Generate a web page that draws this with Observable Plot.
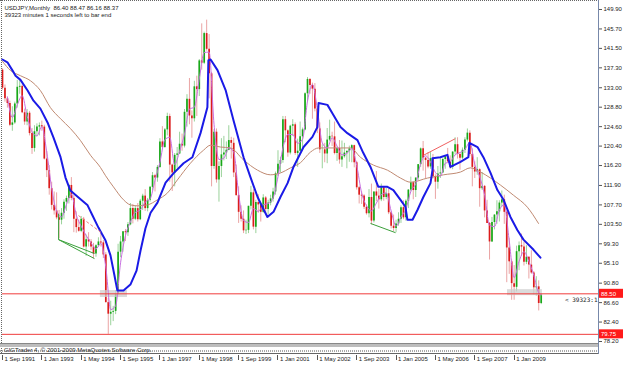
<!DOCTYPE html>
<html><head><meta charset="utf-8">
<script src="https://cdn.jsdelivr.net/npm/d3@7"></script>
<script src="https://cdn.jsdelivr.net/npm/@observablehq/plot@0.6"></script>
<style>
html,body{margin:0;padding:0;background:#fff;}
#chart svg{display:block;white-space:pre;}
</style></head><body><div id="chart"></div>
<script>
// Monthly USDJPY bars, index 0 = Sep 1991 ... 219 = Dec 2009
const opens = [136.8,132.9,130.6,129.6,
124.9,125.4,129.5,133.1,133.3,127.6,125.6,127.5,123.1,119.9,123.5,124.5,
124.8,124.5,117.6,115.1,111.2,107.6,106.4,104.9,104.4,105.9,108.3,109.1,
111.9,109.1,104.6,102.8,102.0,104.6,98.6,100.2,99.7,98.6,97.1,98.9,
99.7,99.5,96.9,86.6,84.1,84.5,84.7,88.4,97.5,99.7,101.9,101.7,
103.4,106.9,104.6,106.9,104.5,108.5,109.6,106.9,108.7,111.5,114.0,113.5,
115.8,121.3,120.1,123.9,126.8,116.3,114.6,118.4,118.7,120.8,120.4,127.7,
130.5,126.9,126.3,133.2,132.6,138.8,138.3,144.7,141.3,136.0,116.0,123.4,
113.1,116.0,118.5,118.9,119.5,121.6,121.0,114.6,109.7,106.1,104.6,102.1,
102.2,107.4,110.3,102.9,108.2,107.7,106.1,109.2,106.7,108.1,109.0,110.5,
114.4,116.5,117.3,126.1,123.7,118.9,124.7,125.0,118.8,119.3,122.4,123.9,
131.7,134.8,133.5,132.7,128.4,124.1,119.6,119.6,118.7,121.7,122.5,122.4,
118.8,119.9,117.4,118.1,118.9,119.3,119.8,120.5,116.8,111.4,109.8,109.6,
107.2,105.8,109.3,104.2,110.5,109.6,108.8,111.4,109.3,110.1,106.0,103.1,
102.6,103.6,104.6,107.1,104.9,108.5,110.9,112.5,110.8,113.5,116.4,119.8,
117.8,117.3,115.9,117.7,113.8,112.6,114.4,114.6,117.5,118.1,117.0,115.8,
119.1,120.7,118.6,117.8,119.5,121.7,123.2,118.6,115.8,114.8,115.3,111.2,
111.7,106.4,103.7,99.7,103.9,105.5,106.2,108.1,108.8,106.1,98.4,95.4,
90.7,89.9,97.6,98.9,98.6,95.3,96.4,94.7,93.0,89.8,90.0,86.4];
const highs = [137.1,133.6,131.0,130.1,
128.9,129.9,134.6,134.6,133.6,128.4,128.3,127.9,124.2,124.8,125.2,125.4,
125.8,124.9,119.2,116.2,112.6,110.5,110.3,106.5,106.9,108.8,109.6,112.1,
113.6,109.7,106.2,104.4,105.2,105.0,101.2,101.7,100.2,99.4,99.1,100.6,
101.5,100.0,97.4,87.5,86.9,85.8,89.2,99.2,100.9,101.9,102.4,103.9,
108.0,107.8,107.4,108.0,108.9,110.0,111.0,109.1,111.7,114.7,114.3,116.2,
122.0,124.6,124.2,127.5,127.3,116.5,118.8,120.1,123.4,123.0,128.3,131.5,
135.0,128.0,134.4,135.5,139.1,146.8,145.0,147.6,144.5,136.3,124.0,124.1,
117.0,122.0,122.5,121.3,124.8,122.3,122.1,116.3,111.6,107.5,106.4,104.4,
107.4,111.7,111.0,108.7,109.9,108.0,109.9,109.5,108.7,109.8,111.3,114.8,
119.4,118.0,126.8,126.8,123.9,124.9,126.1,125.4,121.9,125.6,124.3,131.9,
135.2,135.0,134.0,133.9,129.0,125.4,120.7,121.0,124.2,126.0,123.4,125.6,
120.2,121.6,121.5,121.0,119.3,120.4,120.7,120.6,117.1,111.7,110.5,109.9,
107.7,111.0,112.2,110.5,114.9,111.1,112.2,111.5,111.3,111.1,106.3,105.5,
104.4,106.0,107.5,108.6,108.8,111.0,113.7,112.7,113.5,116.4,120.0,121.4,
117.9,119.0,119.0,118.6,114.2,116.0,117.8,117.7,118.3,119.9,118.3,119.2,
122.2,122.2,119.0,120.0,122.2,124.1,123.7,119.8,117.0,117.9,115.5,114.7,
111.9,108.7,103.9,105.0,105.6,108.6,108.6,110.7,109.8,106.4,100.5,95.8,
94.6,98.8,99.7,101.4,99.7,98.9,96.5,97.8,93.3,92.2,91.3,88.47];
const lows = [132.5,129.9,128.6,124.6,
123.6,125.1,128.6,131.6,127.4,124.9,124.8,122.6,118.6,119.1,122.4,122.6,
123.6,117.4,113.6,109.8,106.6,105.5,104.5,100.4,103.4,104.6,106.3,107.9,
108.6,101.7,101.6,101.8,101.7,98.4,96.6,98.6,97.9,96.1,96.4,98.6,
98.6,96.1,86.5,79.75,81.6,82.5,84.0,88.2,96.3,97.5,99.8,100.9,
103.2,103.6,104.3,104.0,104.3,106.5,106.3,106.2,108.3,110.8,110.5,112.6,
115.6,119.9,119.9,122.6,112.6,110.6,111.6,115.6,118.6,119.3,120.0,124.5,
125.0,122.1,125.6,126.8,131.1,136.8,138.0,140.9,130.6,111.6,115.4,112.4,
108.3,113.6,117.2,117.5,119.4,117.6,113.6,109.6,103.7,104.0,101.5,101.3,
101.5,106.6,102.3,101.5,105.9,104.0,105.9,105.8,105.5,107.5,108.3,109.8,
113.8,114.6,116.7,121.1,118.0,118.5,122.5,118.4,115.8,119.1,119.6,123.7,
129.9,131.6,126.2,127.8,123.1,118.8,115.5,116.8,116.6,121.4,120.3,118.5,
117.1,116.5,115.8,117.8,115.5,116.9,116.8,115.7,110.9,107.9,107.8,106.7,
105.5,104.9,103.4,103.8,108.4,106.8,108.4,108.5,108.8,105.6,102.5,101.9,
101.7,103.1,103.7,104.5,104.2,106.9,110.5,108.8,109.3,113.0,115.8,115.0,
113.4,115.5,115.4,113.3,108.9,111.1,113.4,114.5,115.4,116.8,115.4,115.3,
118.5,117.6,115.2,117.5,118.8,121.3,118.2,111.6,113.4,114.1,107.2,110.8,
104.9,103.7,95.8,99.6,102.3,103.5,104.0,107.3,103.5,90.9,92.7,87.1,
87.1,88.9,93.5,96.6,94.5,94.8,91.7,92.7,88.2,88.0,84.8,86.16];
const closes = [132.9,130.6,129.6,124.9,
125.4,129.5,133.1,133.3,127.6,125.6,127.5,123.1,119.9,123.5,124.5,124.8,
124.5,117.6,115.1,111.2,107.6,106.4,104.9,104.4,105.9,108.3,109.1,111.9,
109.1,104.6,102.8,102.0,104.6,98.6,100.2,99.7,98.6,97.1,98.9,99.7,
99.5,96.9,86.6,84.1,84.5,84.7,88.4,97.5,99.7,101.9,101.7,103.4,
106.9,104.6,106.9,104.5,108.5,109.6,106.9,108.7,111.5,114.0,113.5,115.8,
121.3,120.1,123.9,126.8,116.3,114.6,118.4,118.7,120.8,120.4,127.7,130.5,
126.9,126.3,133.2,132.6,138.8,138.3,144.7,141.3,136.0,116.0,123.4,113.1,
116.0,118.5,118.9,119.5,121.6,121.0,114.6,109.7,106.1,104.6,102.1,102.2,
107.4,110.3,102.9,108.2,107.7,106.1,109.2,106.7,108.1,109.0,110.5,114.4,
116.5,117.3,126.1,123.7,118.9,124.7,125.0,118.8,119.3,122.4,123.9,131.7,
134.8,133.5,132.7,128.4,124.1,119.6,119.6,118.7,121.7,122.5,122.4,118.8,
119.9,117.4,118.1,118.9,119.3,119.8,120.5,116.8,111.4,109.8,109.6,107.2,
105.8,109.3,104.2,110.5,109.6,108.8,111.4,109.3,110.1,106.0,103.1,102.6,
103.6,104.6,107.1,104.9,108.5,110.9,112.5,110.8,113.5,116.4,119.8,117.8,
117.3,115.9,117.7,113.8,112.6,114.4,114.6,117.5,118.1,117.0,115.8,119.1,
120.7,118.6,117.8,119.5,121.7,123.2,118.6,115.8,114.8,115.3,111.2,111.7,
106.4,103.7,99.7,103.9,105.5,106.2,108.1,108.8,106.1,98.4,95.4,90.7,
89.9,97.6,98.9,98.6,95.3,96.4,94.7,93.0,89.8,90.0,86.4,88.37];

// Indicator lines (month index, price)
const blueAt  = [0,2,4.1,5.3,7.3,10.2,12.6,15.4,18.3,20.7,23.6,25.6,27.6,30.9,34.6,36.6,39,41.9,43.9,45.5,46.7,49.2,52,54.5,56.1,58.1,60.2,63,66.3,69.5,73.6,77.2,80.5,83.3,83.7,84.6,87.4,90.7,93.9,98,100.8,103.7,105.7,107.7,110.2,113,115.9,118.3,122.4,126,128,128.5,132.1,134.1,137.4,140.2,144.3,146.7,149.6,152.8,156.5,158.9,161.8,163.8,164.6,166.7,168.7,171.1,174,174.8,174.8,178,180.9,182.1,186.2,189.4,189.8,193.1,195.5,198.4,201.2,203.7,206.5,209.3,211.8,215.9,218.7];
const blueVal = [139.1,138.5,136.7,135.6,134.7,132.4,130.2,128.5,125.5,122.3,118.0,113.6,110.8,109.3,107.6,105.4,102.8,100.0,96.8,92.5,89.2,89.2,90.5,93.5,97.8,102.6,106.0,108.2,112.5,114.5,116.7,118.0,123.2,128.8,138.9,139.1,136.8,132.5,126.0,118.0,113.7,109.4,107.2,105.1,106.2,109.4,112.4,115.9,120.2,122.4,124.5,129.7,129.3,127.5,124.5,123.2,121.7,118.9,115.9,111.6,111.6,110.9,108.8,107.3,104.5,104.5,106.6,109.4,112.4,115.2,117.8,118.0,118.5,115.9,117.0,118.0,121.1,120.2,118.0,114.6,110.9,108.8,105.1,102.3,100.2,98.0,96.3];
const brownAt  = [0,3.3,7.3,11.4,15.4,19.5,23.6,27.6,31.7,35.8,39.8,41.9,45.1,49.2,52,54.9,58.9,63,67.1,71.1,76.4,81.7,84.6,88.6,92.7,98,103.7,108.9,113,117.1,121.1,125.2,128.5,132.1,137.4,141.5,145.5,150.8,156.5,161.8,165.9,172.8,179.3,186.2,190.2,194.3,198.4,202.4,207.7,213.4,217.9];
const brownVal = [138.7,136.7,135.6,134.5,132.4,128.7,126.3,124.2,121.6,118.4,115.8,114.0,111.6,108.8,107.7,107.5,107.7,108.8,110.3,113.1,116.7,119.5,120.6,120.2,120.0,117.4,115.2,114.2,114.6,115.7,116.8,119.1,120.0,120.0,120.0,120.0,118.0,116.3,115.2,113.5,112.6,113.5,114.2,114.8,115.7,114.8,113.5,112.0,109.8,107.2,103.7];
const violetAt = [2,4,6,8,10,12,14,16,18,20,22,24,26,28,30,32,34,36,38,40,42,44,46,48,50,52,54,56,58,60,62,64,66,68,70,72,74,76,78,80,82,84,86,88,90,92,94,96,98,100,102,104,106,108,110,112,114,116,118,120,122,124,126,128,130,132,134,136,138,140,142,144,146,148,150,152,154,156,158,160,162,164,166,168,170,172,174,176,178,180,182,184,186,188,190,192,194,196,198,200,202,204,206,208,210,212,214,216,218,219];
const violetVal = [131.0,126.6,129.3,131.3,126.9,123.5,122.6,124.6,119.1,111.3,106.3,105.1,107.8,110.0,105.5,103.1,101.1,99.5,98.2,99.4,94.3,85.1,85.9,95.2,101.1,104.0,106.1,106.6,108.3,109.0,113.0,116.9,121.8,122.3,116.4,119.3,123.0,128.4,128.8,134.9,140.6,140.7,125.1,117.5,117.8,120.0,119.1,110.1,104.3,103.9,106.9,106.3,107.7,108.0,109.2,113.8,120.0,122.9,122.9,121.0,121.9,130.1,133.7,128.4,121.1,120.0,122.2,120.4,118.5,118.8,119.9,116.2,110.3,107.5,106.4,108.1,109.9,110.3,106.4,103.1,105.1,106.8,110.6,112.3,116.6,118.3,117.0,114.7,113.9,116.7,117.0,118.5,119.0,119.7,121.2,116.4,113.8,109.8,103.3,103.0,106.6,107.7,100.0,92.0,95.5,97.6,95.5,92.5,88.7,88.3];

// User-drawn objects
const trendStart = [[22.8,105.8],[22.8,100.2],[22.8,100.2],[149.6,103.7],[30.9,105.4],[171.1,118.4]];
const trendEnd   = [[22.8,100.2],[37.4,96.1],[37.4,97.2],[159.8,101.7],[40.7,101.5],[184.1,122.0]];
const trendColor = ["#3aa03a","#3aa03a","#3aa03a","#3aa03a","#f08080","#f06060"];
const trendDash  = ["none","none","none","none","3,2","none"];
const boxes = [[39.8,50.8,87.7,89.2],[205.3,219.5,88.1,89.4]];
const hLines = [88.50, 79.75];
const hLabels = ["88.50","79.75"];

const priceTicks = [149.90,145.70,141.50,137.30,133.00,128.80,124.60,120.40,116.20,111.90,107.70,103.50,99.30,95.10,90.80,86.60,82.40,78.20];
const dateTicks  = [0,16,32,48,64,80,96,112,128,144,160,176,192,208];
const dateLabels = ["1 Sep 1991","1 Jan 1993","1 May 1994","1 Sep 1995","1 Jan 1997","1 May 1998","1 Sep 1999","1 Jan 2001","1 May 2002","1 Sep 2003","1 Jan 2005","1 May 2006","1 Sep 2007","1 Jan 2009"];
const titleLines = ["USDJPY,Monthly  86.40 88.47 86.16 88.37","39323 minutes 1 seconds left to bar end"];
const timerText = "< 39323:1";
const footerText = "GIGTrader 4, \u00a9 2001-2009 MetaQuotes Software Corp.";

const FONT = "Liberation Sans, Arial, sans-serif";
const candles = opens.map((o,i)=>({i, o, h:highs[i], l:lows[i], c:closes[i]}));
const bulls = candles.filter(d=>d.c>=d.o), bears = candles.filter(d=>d.c<d.o);
const pts = (a,b)=>a.map((x,k)=>({x, y:b[k]}));
const trends = trendStart.map((s,k)=>({x1:s[0],y1:s[1],x2:trendEnd[k][0],y2:trendEnd[k][1],c:trendColor[k],d:trendDash[k]}));
const boxData = boxes.map(b=>({x1:b[0],x2:b[1],y1:b[2],y2:b[3]}));
const labelMap = new Map(dateTicks.map((t,k)=>[t,dateLabels[k]]));

const plot = Plot.plot({
  width:625, height:365,
  marginLeft:2, marginRight:27, marginTop:2, marginBottom:22,
  style:{fontFamily:FONT, fontSize:"6px", background:"#fff", color:"#222"},
  x:{domain:[0,242.3], axis:null},
  y:{domain:[77.77,151.41], axis:null},
  marks:[
    Plot.ruleX(bulls,{x:"i", y1:"l", y2:"h", stroke:"#9ad29a", strokeWidth:1}),
    Plot.ruleX(bears,{x:"i", y1:"l", y2:"h", stroke:"#eaa4a4", strokeWidth:1}),
    Plot.ruleX(bulls,{x:"i", y1:"o", y2:"c", stroke:"#18a818", strokeWidth:1.7}),
    Plot.ruleX(bears,{x:"i", y1:"o", y2:"c", stroke:"#dc1c1c", strokeWidth:1.7}),
    Plot.rect(boxData,{x1:"x1",x2:"x2",y1:"y1",y2:"y2", fill:"#cfcfcf", fillOpacity:0.75}),
    Plot.line(pts(brownAt,brownVal),{x:"x",y:"y",stroke:"#c08a72",strokeWidth:1,curve:"monotone-x"}),
    Plot.line(pts(violetAt,violetVal),{x:"x",y:"y",stroke:"#c86ee0",strokeWidth:1,curve:"monotone-x"}),
    Plot.line(pts(blueAt,blueVal),{x:"x",y:"y",stroke:"#1a1ae6",strokeWidth:2}),
    ...trends.map(t=>Plot.link([t],{x1:"x1",y1:"y1",x2:"x2",y2:"y2",stroke:t.c,strokeWidth:1,strokeDasharray:t.d})),
    Plot.ruleY(hLines,{stroke:"#f03c3c",strokeWidth:1}),
    Plot.text([timerText],{frameAnchor:"right", y:[hLines[0]], text:d=>d, textAnchor:"end", dx:-1, dy:6, fontFamily:"DejaVu Sans Mono, monospace", fontSize:6, fill:"#222"}),
    Plot.text([titleLines.join("\n")],{frameAnchor:"top-left", dx:2, dy:2, lineHeight:1.2, fontSize:6, fill:"#222"}),
    Plot.axisY({anchor:"right", ticks:priceTicks, tickFormat:d=>d.toFixed(2), tickSize:3, tickPadding:2, fontSize:6, stroke:"#555"}),
    Plot.axisX({anchor:"bottom", ticks:dateTicks, tickFormat:d=>labelMap.get(d), tickSize:0, tickPadding:13, textAnchor:"start", dx:2, fontSize:6})
  ]
});
document.getElementById("chart").appendChild(plot);

// chart-window chrome positioned through the plot's own scales
const svg = d3.select(plot);
const xs = plot.scale("x"), ys = plot.scale("y");
const xR = xs.apply(242.3), yB = ys.apply(77.77);
const g = svg.append("g").attr("text-anchor","start");
g.append("line").attr("x1",1.5).attr("x2",1.5).attr("y1",0).attr("y2",354).attr("stroke","#666").attr("stroke-dasharray","1,1");
g.append("line").attr("x1",0).attr("x2",xR).attr("y1",0.5).attr("y2",0.5).attr("stroke","#666").attr("stroke-dasharray","1,1");
g.append("line").attr("x1",xR+0.5).attr("x2",xR+0.5).attr("y1",0).attr("y2",354).attr("stroke","#7788aa");
g.append("rect").attr("x",0).attr("y",yB+0.5).attr("width",xR).attr("height",3.5).attr("fill","#bdbdbd");
g.append("line").attr("x1",0).attr("x2",xR).attr("y1",yB+0.5).attr("y2",yB+0.5).attr("stroke","#888");
g.append("text").attr("x",4).attr("y",yB+9).attr("text-anchor","start").attr("font-size",6).attr("font-family",FONT).attr("fill","#222").text(footerText);
g.append("line").attr("x1",0).attr("x2",xR).attr("y1",yB+8).attr("y2",yB+8).attr("stroke","#555").attr("stroke-dasharray","1,1");
g.append("line").attr("x1",0).attr("x2",xR).attr("y1",yB+10.5).attr("y2",yB+10.5).attr("stroke","#666");
dateTicks.forEach(t=>{
  const x = Math.round(xs.apply(t))+0.5;
  g.append("line").attr("x1",x).attr("x2",x).attr("y1",yB+12).attr("y2",yB+17).attr("stroke","#555");
});
hLines.forEach((v,k)=>{
  const y = ys.apply(v);
  g.append("rect").attr("x",xR+1).attr("y",y-4.5).attr("width",24).attr("height",9).attr("fill","#ff1a1a");
  g.append("text").attr("x",xR+3).attr("y",y+2.2).attr("text-anchor","start").attr("font-size",6).attr("font-family",FONT).attr("fill","#fff").text(hLabels[k]);
});
</script></body></html>
